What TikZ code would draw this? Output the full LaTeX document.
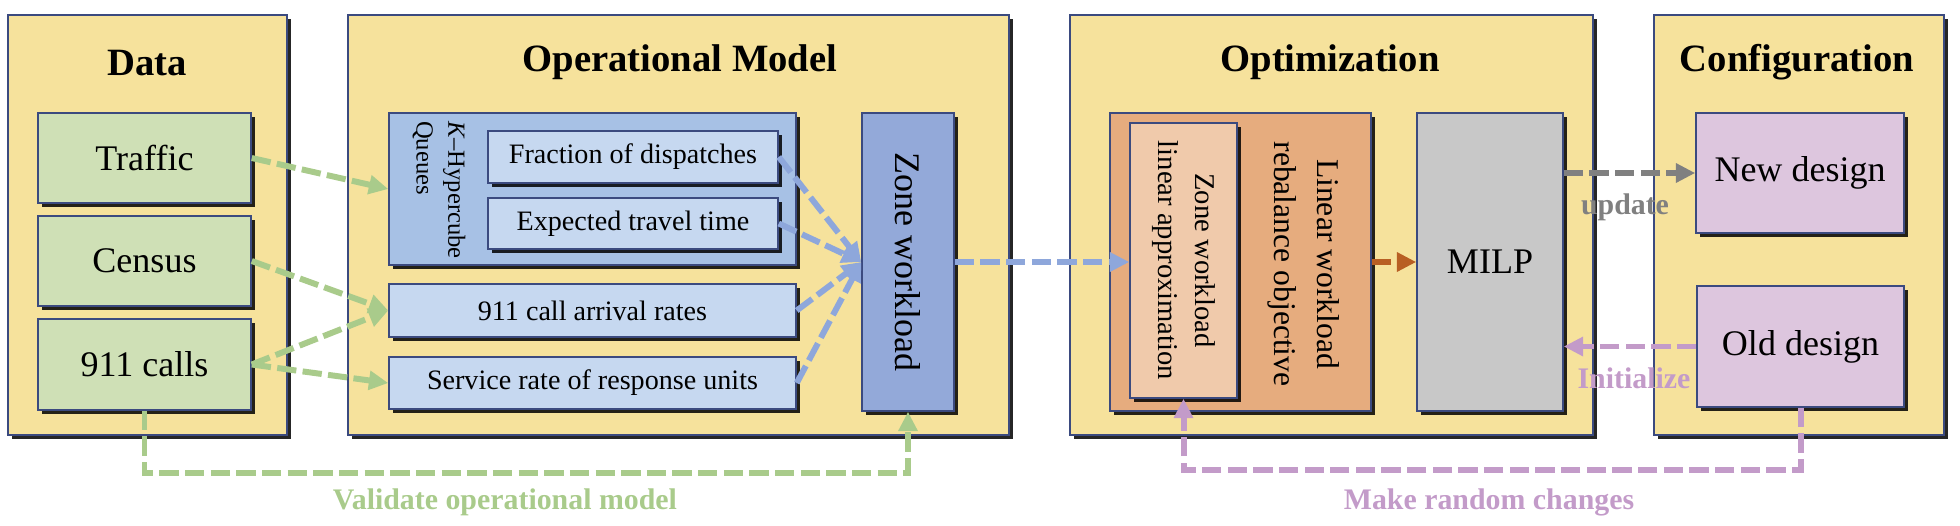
\documentclass[tikz,border=0pt]{standalone}
\usepackage{fontspec}
\setmainfont{Liberation Serif}
\usepackage{tikz}
\usetikzlibrary{positioning,calc,arrows.meta,shadows}

\definecolor{panelfill}{HTML}{F6E29C}
\definecolor{edgeblue}{HTML}{3B4A7F}
\definecolor{datagreen}{HTML}{CFE0B6}
\definecolor{queueblue}{HTML}{A7C1E5}
\definecolor{paleblue}{HTML}{C6D8F0}
\definecolor{zoneblue}{HTML}{93A9D9}
\definecolor{objorange}{HTML}{E6AC7E}
\definecolor{approxorange}{HTML}{F0CAAB}
\definecolor{milpgray}{HTML}{C8C8C8}
\definecolor{designpurple}{HTML}{DDC6DE}
\definecolor{arrgreen}{HTML}{A9CB8B}
\definecolor{arrblue}{HTML}{8EA7DB}
\definecolor{arrorange}{HTML}{B85F23}
\definecolor{arrgray}{HTML}{808080}
\definecolor{arrpurple}{HTML}{C39BC9}

\tikzset{
  box/.style={draw=edgeblue, line width=0.9pt, inner sep=0pt,
    drop shadow={shadow xshift=2.4pt, shadow yshift=-2.4pt, opacity=0.85, fill=black}},
  panel/.style={box, fill=panelfill, minimum height=8.4cm},
  paneltitle/.style={font=\fontsize{22}{26}\selectfont\bfseries},
  bigtxt/.style={font=\fontsize{20.5}{24}\selectfont},
  smalltxt/.style={font=\fontsize{16}{19}\selectfont},
  flow/.style={line width=3.4pt, dash pattern=on 11pt off 3.6pt, -{Triangle[length=11pt,width=10.5pt]}},
  flowlabel/.style={font=\fontsize{17}{20}\selectfont\bfseries},
}

\begin{document}
\begin{tikzpicture}[x=0.02cm, y=-0.02cm]
  \useasboundingbox (0,0) rectangle (1960,525);

  % Panels
  \node[panel, minimum width=5.58cm] (data) at (147.5,225) {};
  \node[panel, minimum width=13.22cm] (opmodel) at (678.5,225) {};
  \node[panel, minimum width=10.46cm] (optim) at (1331.5,225) {};
  \node[panel, minimum width=5.8cm] (config) at (1799,225) {};
  \node[paneltitle] (dataT) at (147,63) {Data};
  \node[paneltitle] (opmodelT) at (680,62) {Operational Model};
  \node[paneltitle] (optimT) at (1330,62) {Optimization};
  \node[paneltitle] (configT) at (1797,62) {Configuration};

  % Data
  \node[box, fill=datagreen, minimum width=4.26cm, minimum height=1.8cm, bigtxt] (traffic) at (144.5,158) {Traffic};
  \node[box, fill=datagreen, minimum width=4.26cm, minimum height=1.8cm, bigtxt] (census) at (144.5,261) {Census};
  \node[box, fill=datagreen, minimum width=4.26cm, minimum height=1.82cm, bigtxt] (calls) at (144.5,364.5) {911 calls};

  % Operational model
  \node[box, fill=queueblue, minimum width=8.14cm, minimum height=3.04cm] (hyper) at (592.5,189) {};
  \node[font=\fontsize{14}{18}\selectfont, rotate=-90, align=left] (hyperT) at (439,190) {\textit{K}--Hypercube\\Queues};
  \node[box, fill=paleblue, minimum width=5.8cm, minimum height=1.04cm, smalltxt] (frac) at (633,157) {Fraction of dispatches};
  \node[box, fill=paleblue, minimum width=5.8cm, minimum height=1.02cm, smalltxt] (travel) at (633,223.5) {Expected travel time};
  \node[box, fill=paleblue, minimum width=8.14cm, minimum height=1.06cm, smalltxt] (arrival) at (592.5,310.5) {911 call arrival rates};
  \node[box, fill=paleblue, minimum width=8.14cm, minimum height=1.04cm, smalltxt] (service) at (592.5,383) {Service rate of response units};
  \node[box, fill=zoneblue, minimum width=1.84cm, minimum height=5.96cm] (zone) at (908,262) {};
  \node[bigtxt, rotate=-90] (zoneT) at (zone.center) {Zone workload};

  % Optimization
  \node[box, fill=objorange, minimum width=5.22cm, minimum height=5.96cm] (linobj) at (1240.5,262) {};
  \node[box, fill=approxorange, minimum width=2.14cm, minimum height=5.5cm] (approx) at (1183.5,260.5) {};
  \node[font=\fontsize{16.3}{21}\selectfont, rotate=-90, align=center] (approxT) at (approx.center) {Zone workload\\linear approximation};
  \node[font=\fontsize{18}{24.5}\selectfont, rotate=-90, align=center] (linobjT) at (1303.5,264) {Linear workload\\rebalance objective};
  \node[box, fill=milpgray, minimum width=2.92cm, minimum height=5.96cm, bigtxt] (milp) at (1490,262) {MILP};

  % Configuration
  \node[box, fill=designpurple, minimum width=4.16cm, minimum height=2.4cm, bigtxt] (newdes) at (1800,173) {New design};
  \node[box, fill=designpurple, minimum width=4.14cm, minimum height=2.42cm, bigtxt] (olddes) at (1800.5,346.5) {Old design};

  % Data into the queue model
  \draw[flow, arrgreen] (traffic.east) -- (hyper.west);
  \draw[flow, arrgreen] (census.east) -- (arrival.west);
  \draw[flow, arrgreen] (calls.east) -- (arrival.west);
  \draw[flow, arrgreen] (calls.east) -- (service.west);

  % Into zone workload and on
  \foreach \src in {frac, travel, arrival, service}
    \draw[flow, arrblue] (\src.east) -- (zone.west);
  \draw[flow, arrblue] (zone.east) -- (zone.east -| approx.west);
  \draw[flow, arrorange] (linobj.east) -- (milp.west);

  % Designs
  \draw[flow, arrgray] (milp.east |- newdes.west) -- (newdes.west);
  \node[flowlabel, text=arrgray] (updT) at (1625,207) {update};
  \draw[flow, arrpurple] (olddes.west) -- (olddes.west -| milp.east);
  \node[flowlabel, text=arrpurple] (initT) at (1634,378) {Initialize};

  % Feedback loops
  \draw[flow, arrgreen] (calls.south) -- ++(0,62) -| (zone.south);
  \node[flowlabel, text=arrgreen] (validT) at (505,502) {Validate operational model};
  \draw[flow, arrpurple] (olddes.south) -- ++(0,62) -| (approx.south);
  \node[flowlabel, text=arrpurple] (randT) at (1489,502) {Make random changes};
\end{tikzpicture}
\end{document}
